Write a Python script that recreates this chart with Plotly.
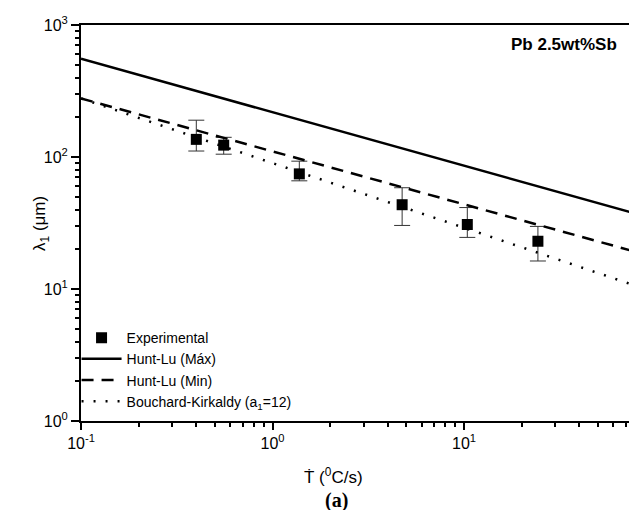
import plotly.graph_objects as go

# Experimental data (cooling rate in °C/s, spacing in µm)
exp_rate = [0.40, 0.556, 1.38, 4.75, 10.4, 24.3]
exp_lambda = [136, 123, 74.5, 43.5, 30.8, 23.0]
exp_upper = [190, 141, 93, 58.5, 41.4, 29.8]
exp_lower = [111, 105, 66, 30.3, 24.6, 16.3]

# Theoretical curves (end points, straight on log-log)
line_rate = [0.1, 80]
hunt_max = [555, 37]
hunt_min = [278, 19]
bouchard = [278, 10.5]

x_ticks = [0.1, 1, 10]
x_ticktext = ["10<sup>-1</sup>", "10<sup>0</sup>", "10<sup>1</sup>"]
y_ticks = [1, 10, 100, 1000]
y_ticktext = ["10<sup>0</sup>", "10<sup>1</sup>", "10<sup>2</sup>", "10<sup>3</sup>"]

err_plus = [u - v for u, v in zip(exp_upper, exp_lambda)]
err_minus = [v - l for v, l in zip(exp_lambda, exp_lower)]

fig = go.Figure()
fig.add_trace(go.Scatter(
    x=exp_rate, y=exp_lambda, mode="markers", name="Experimental",
    marker=dict(symbol="square", size=11, color="black"),
    error_y=dict(type="data", array=err_plus, arrayminus=err_minus,
                 color="#333333", thickness=1, width=8),
))
fig.add_trace(go.Scatter(
    x=line_rate, y=hunt_max, mode="lines", name="Hunt-Lu (Máx)",
    line=dict(color="black", width=2.5),
))
fig.add_trace(go.Scatter(
    x=line_rate, y=hunt_min, mode="lines", name="Hunt-Lu (Min)",
    line=dict(color="black", width=2.5, dash="12px,8px"),
))
fig.add_trace(go.Scatter(
    x=line_rate, y=bouchard, mode="lines", name="Bouchard-Kirkaldy (a<sub>1</sub>=12)",
    line=dict(color="black", width=2.5, dash="2px,10px"),
))

font_family = "Liberation Sans"

fig.update_xaxes(
    type="log", range=[-1, 1.903],
    showline=True, linecolor="black", linewidth=2, mirror=True,
    showgrid=False, zeroline=False,
    tickvals=x_ticks, ticktext=x_ticktext,
    ticks="outside", ticklen=7, tickwidth=1.5, tickcolor="black",
    minor=dict(ticks="outside", ticklen=4, tickwidth=1.5, tickcolor="black", dtick="D1", showgrid=False),
    tickfont=dict(size=16, color="black", family=font_family),
)
fig.update_yaxes(
    type="log", range=[0, 3],
    showline=True, linecolor="black", linewidth=2, mirror=True,
    showgrid=False, zeroline=False,
    tickvals=y_ticks, ticktext=y_ticktext,
    ticks="outside", ticklen=8, tickwidth=1.5, tickcolor="black",
    minor=dict(ticks="outside", ticklen=4, tickwidth=1.5, tickcolor="black", dtick="D1", showgrid=False),
    tickfont=dict(size=16, color="black", family=font_family),
)

fig.update_layout(
    width=637, height=510,
    margin=dict(l=73, r=6, t=15, b=97),
    plot_bgcolor="white", paper_bgcolor="white",
    font=dict(family=font_family, color="black", size=14),
    showlegend=True,
    legend=dict(x=-0.008, y=0.01, xanchor="left", yanchor="bottom",
                bgcolor="rgba(0,0,0,0)", font=dict(size=14, color="black", family=font_family),
                tracegroupgap=0, itemwidth=40),
    annotations=[
        dict(text="<b>Pb 2.5wt%Sb</b>", x=0.968, y=0.95, xref="paper", yref="paper",
             xanchor="right", yanchor="middle", showarrow=False,
             font=dict(size=17, color="black", family=font_family)),
        dict(text="Ṫ (<sup>0</sup>C/s)", x=0.455, y=-0.138, xref="paper", yref="paper",
             xanchor="center", yanchor="middle", showarrow=False,
             font=dict(size=17, color="black", family=font_family)),
        dict(text="<b>(a)</b>", x=0.46, y=-0.2, xref="paper", yref="paper",
             xanchor="center", yanchor="middle", showarrow=False,
             font=dict(size=20, color="black", family="Liberation Serif")),
        dict(text="λ<sub>1</sub> (μm)", x=-0.072, y=0.5, xref="paper", yref="paper",
             xanchor="center", yanchor="middle", showarrow=False, textangle=-90,
             font=dict(size=17, color="black", family=font_family)),
    ],
)

fig.write_html("out.html")
